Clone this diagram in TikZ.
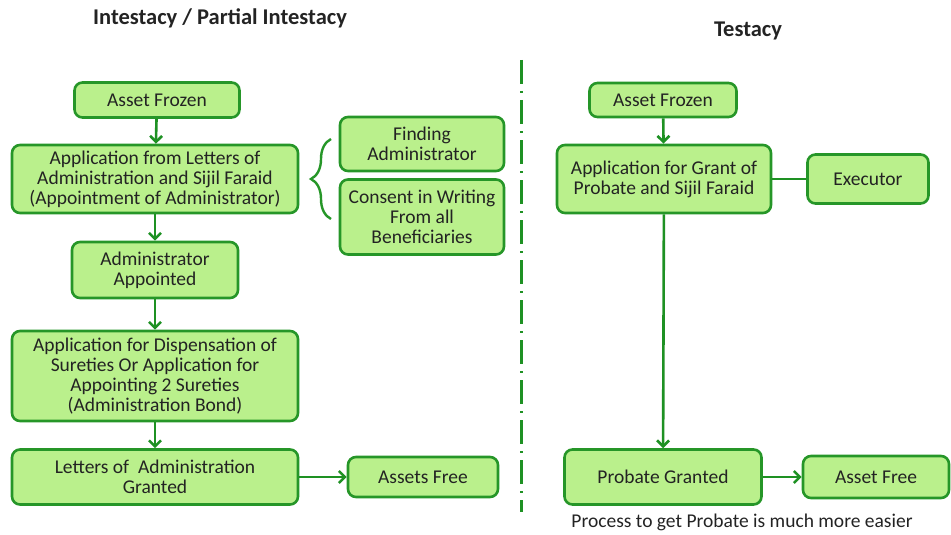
\documentclass[tikz,border=0pt]{standalone}
\usepackage{fontspec}
\setmainfont{Carlito}
\usetikzlibrary{arrows.meta,decorations.pathreplacing}
\definecolor{boxfill}{RGB}{186,240,140}
\definecolor{boxline}{RGB}{38,150,40}
\definecolor{flowline}{RGB}{30,145,35}
\definecolor{textgray}{RGB}{35,35,35}
\begin{document}
\begin{tikzpicture}[
  x=1pt, y=-1pt,
  box/.style={draw=boxline, fill=boxfill, line width=2.6pt, rounded corners=8pt, align=center, text=textgray, font=\fontsize{19.5}{20}\selectfont, inner sep=0pt},
  flow/.style={draw=flowline, line width=2.6pt, -{Straight Barb[length=6pt,width=12pt]}},
  link/.style={draw=flowline, line width=2.6pt},
  heading/.style={text=textgray, font=\bfseries\fontsize{22.5}{24}\selectfont}
]
\useasboundingbox (0,0) rectangle (951,535);

\node[heading] (titleL) at (220,18) {Intestacy / Partial Intestacy};
\node[heading] (titleR) at (748,31) {Testacy};

% intestacy side
\node[box, minimum width=165pt, minimum height=35pt] (frozenL) at (157,100) {Asset Frozen};
\node[box, minimum width=286pt, minimum height=68pt] (applyL) at (155,179) {Application from Letters of\\Administration and Sijil Faraid\\(Appointment of Administrator)};
\node[box, minimum width=164pt, minimum height=54pt] (finding) at (422,144) {Finding\\Administrator};
\node[box, minimum width=164pt, minimum height=75pt] (consent) at (422,217) {Consent in Writing\\From all\\Beneficiaries};
\node[box, minimum width=166pt, minimum height=56pt] (appointed) at (155,270) {Administrator\\Appointed};
\node[box, minimum width=286pt, minimum height=90pt] (dispense) at (155,376) {Application for Dispensation of\\Sureties Or Application for\\Appointing 2 Sureties\\(Administration Bond)};
\node[box, minimum width=286pt, minimum height=55pt] (lettersL) at (155,477) {Letters of~ Administration\\Granted};
\node[box, minimum width=150pt, minimum height=40pt] (freeL) at (423,477) {Assets Free};

\coordinate (braceB) at (331,219);
\coordinate (braceT) at (331,139);
\draw[boxline, line width=2.4pt, decorate, decoration={brace, amplitude=20pt, aspect=0.5}] (braceB) -- (braceT);

\draw[flow] (frozenL) -- (applyL);
\draw[flow] (applyL) -- (appointed);
\draw[flow] (appointed) -- (dispense);
\draw[flow] (dispense) -- (lettersL);
\draw[flow] (lettersL) -- (freeL);

% divider
\coordinate (divT) at (521,60);
\coordinate (divB) at (521,512);
\draw[flowline, line width=3pt, dash pattern=on 24pt off 7pt on 2pt off 7pt] (divT) -- (divB);

% testacy side
\node[box, minimum width=147pt, minimum height=34pt] (frozenR) at (663,100) {Asset Frozen};
\node[box, minimum width=214pt, minimum height=68pt] (applyR) at (664,179) {Application for Grant of\\Probate and Sijil Faraid};
\node[box, minimum width=121pt, minimum height=49pt] (executor) at (868,179) {Executor};
\node[box, minimum width=197pt, minimum height=55pt] (granted) at (663,477) {Probate Granted};
\node[box, minimum width=146pt, minimum height=42pt] (freeR) at (876,477) {Asset Free};

\draw[flow] (frozenR) -- (applyR);
\draw[link] (applyR) -- (executor);
\draw[flow] (applyR) -- (granted);
\draw[flow] (granted) -- (freeR);

\node[text=textgray, font=\fontsize{19.5}{20}\selectfont] (note) at (742,522) {Process to get Probate is much more easier};
\end{tikzpicture}
\end{document}
